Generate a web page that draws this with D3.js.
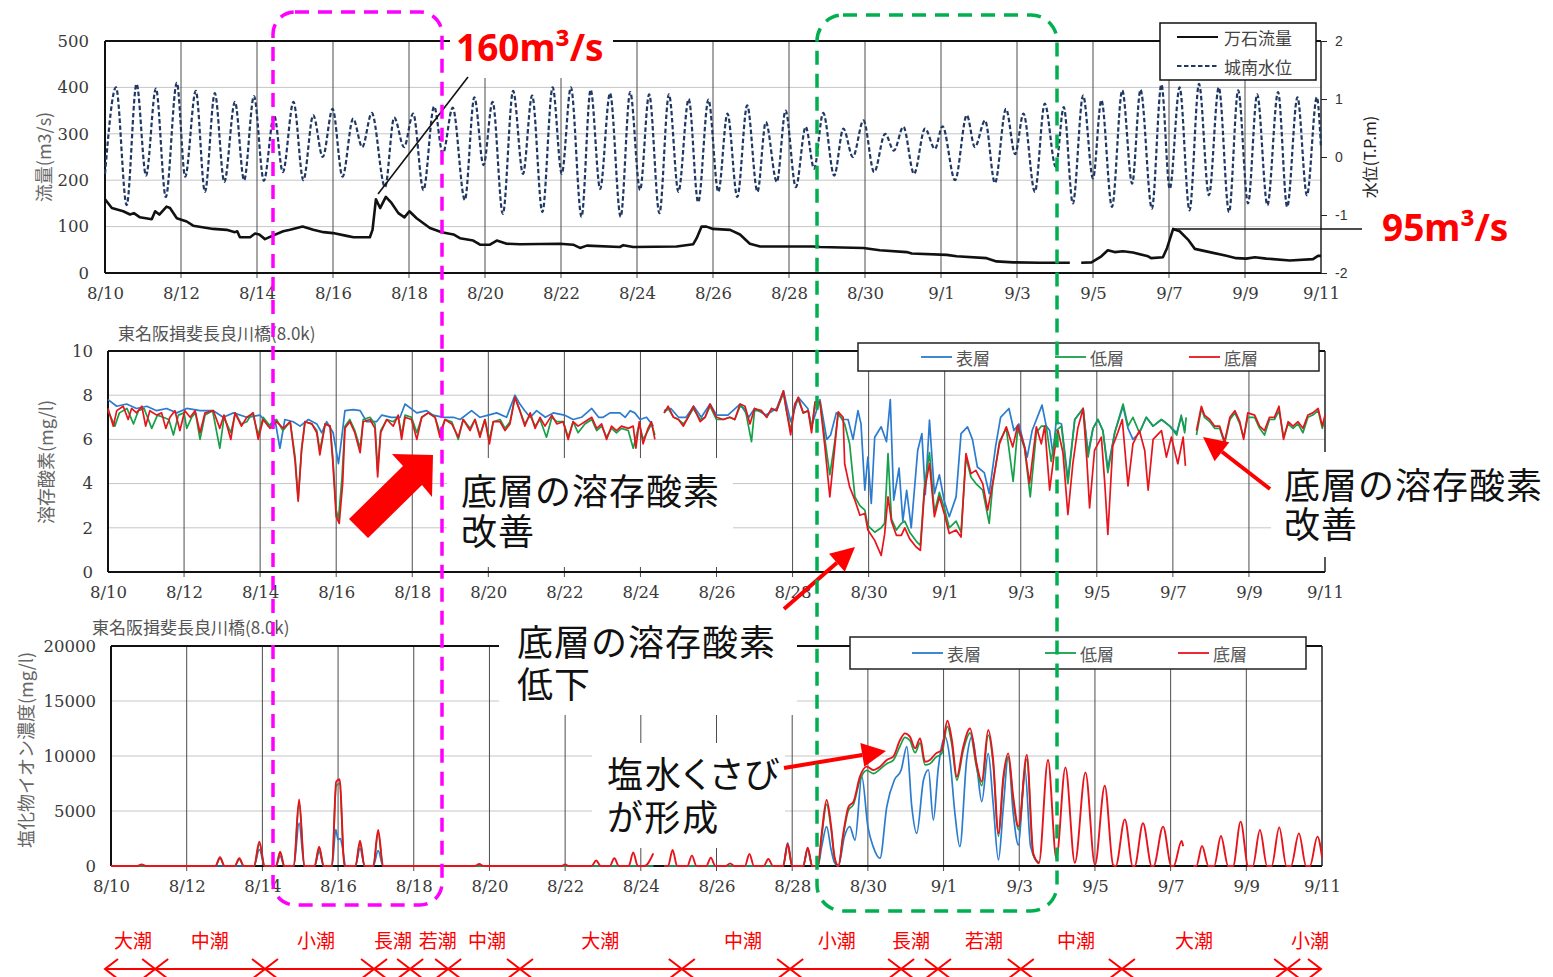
<!DOCTYPE html>
<html><head><meta charset="utf-8">
<script src="https://cdn.jsdelivr.net/npm/d3@7/dist/d3.min.js"></script>
<style>body{margin:0;background:#fff;}svg{display:block;}
.note{font-family:"Noto Sans CJK JP","Noto Sans",sans-serif;font-size:36px;letter-spacing:1px;color:#111;white-space:pre;margin:0;padding:0;}
.note.palt{font-feature-settings:"palt" 1;letter-spacing:2px;}
</style>
</head><body>
<script>
// ---------------- DATA (day offset from 8/10 00:00) ----------------
const dateTicks = [0,2,4,6,8,10,12,14,16,18,20,22,24,26,28,30,32];
const dateLabels = ["8/10","8/12","8/14","8/16","8/18","8/20","8/22","8/24","8/26","8/28","8/30","9/1","9/3","9/5","9/7","9/9","9/11"];
const flowTicks = [0,100,200,300,400,500];
const levelTicks = [-2,-1,0,1,2];
const doTicks = [0,2,4,6,8,10];
const clTicks = [0,5000,10000,15000,20000];

// 城南水位 (T.P.m) – tidal highs/lows
const levelData = [[0,-0.29],[0.29,1.2],[0.57,-0.83],[0.83,1.26],[1.08,-0.32],[1.34,1.18],[1.6,-0.69],[1.89,1.28],[2.11,-0.34],[2.39,1.14],[2.63,-0.6],[2.89,1.1],[3.14,-0.43],[3.42,0.95],[3.66,-0.4],[3.92,1.05],[4.18,-0.41],[4.45,0.72],[4.68,-0.26],[4.96,0.95],[5.22,-0.4],[5.48,0.72],[5.73,0.0],[5.99,0.83],[6.25,-0.34],[6.53,0.66],[6.77,0.17],[7.02,0.76],[7.37,-0.52],[7.61,0.68],[7.87,0.17],[8.11,0.75],[8.38,-0.57],[8.66,0.87],[8.89,0.06],[9.15,0.85],[9.47,-0.74],[9.72,1.03],[9.96,-0.14],[10.2,0.95],[10.47,-0.98],[10.74,1.14],[11.0,-0.29],[11.24,1.06],[11.51,-0.95],[11.78,1.2],[12.02,-0.29],[12.26,1.2],[12.54,-1.03],[12.78,1.16],[13.03,-0.55],[13.29,1.1],[13.57,-1.03],[13.82,1.12],[14.08,-0.57],[14.32,1.08],[14.59,-0.97],[14.84,1.08],[15.09,-0.6],[15.36,1.0],[15.61,-0.78],[15.88,0.99],[16.14,-0.6],[16.38,0.75],[16.64,-0.69],[16.9,0.89],[17.17,-0.6],[17.39,0.6],[17.68,-0.43],[17.91,0.8],[18.18,-0.52],[18.44,0.52],[18.66,-0.2],[18.9,0.76],[19.19,-0.32],[19.43,0.49],[19.68,0.0],[19.96,0.63],[20.24,-0.26],[20.53,0.4],[20.76,0.11],[21.01,0.52],[21.29,-0.29],[21.58,0.49],[21.84,0.14],[22.04,0.53],[22.37,-0.4],[22.68,0.72],[22.89,0.17],[23.16,0.63],[23.42,-0.45],[23.71,0.83],[23.95,0.05],[24.17,0.75],[24.47,-0.6],[24.73,0.92],[25.02,-0.17],[25.23,0.86],[25.47,-0.8],[25.74,1.06],[26.0,-0.37],[26.22,0.98],[26.5,-0.86],[26.77,1.15],[27.03,-0.46],[27.25,1.16],[27.55,-0.89],[27.8,1.25],[28.02,-0.55],[28.28,1.2],[28.54,-0.92],[28.79,1.26],[29.05,-0.66],[29.31,1.2],[29.58,-0.95],[29.82,1.15],[30.08,-0.8],[30.32,1.08],[30.59,-0.83],[30.87,1.12],[31.11,-0.86],[31.38,1.03],[31.63,-0.66],[31.89,1.03],[32.0,0.17]];

// 万石流量 (m3/s)
const flowData = [[0,159],[0.18,140],[0.48,133],[0.66,126],[0.76,129],[0.92,120],[1.23,116],[1.32,133],[1.43,126],[1.62,143],[1.71,140],[1.89,118],[2.15,111],[2.32,102],[2.85,95],[3.2,93],[3.42,88],[3.48,90],[3.55,77],[3.82,77],[3.95,85],[4.06,83],[4.21,73],[4.43,81],[4.69,90],[4.87,93],[5.2,100],[5.48,93],[5.75,88],[6.0,86],[6.36,80],[6.54,77],[6.97,77],[7.04,93],[7.13,159],[7.24,140],[7.39,164],[7.54,151],[7.72,129],[7.88,120],[8.01,133],[8.2,118],[8.55,97],[8.86,88],[9.17,83],[9.34,75],[9.69,70],[9.87,61],[10.13,61],[10.31,70],[10.57,63],[10.92,62],[11.97,63],[12.32,61],[12.5,54],[12.68,59],[13.55,56],[13.64,60],[13.9,56],[15.04,57],[15.48,62],[15.57,75],[15.7,100],[15.83,100],[16.0,95],[16.45,93],[16.71,83],[16.97,63],[17.24,57],[18.64,57],[18.82,56],[19.96,54],[20.39,49],[21.1,45],[21.23,42],[22.15,39],[22.41,36],[23.2,32],[23.46,25],[23.9,23],[24.6,22],[25.39,22],[25.5,null],[25.69,22],[25.96,23],[26.22,36],[26.39,49],[26.57,45],[26.79,47],[27.05,44],[27.45,36],[27.53,32],[27.84,34],[27.95,54],[28.11,95],[28.28,90],[28.5,72],[28.68,52],[29.07,45],[29.51,37],[29.77,32],[30.03,31],[30.26,34],[30.56,31],[31.18,27],[31.79,30],[31.92,37],[32.0,37]];

// 溶存酸素 (mg/l) 表層
const doSurface = [[0,7.8],[0.23,7.5],[0.49,7.6],[0.75,7.4],[1.02,7.5],[1.28,7.3],[1.54,7.4],[1.81,7.2],[2.07,7.4],[2.42,7.3],[2.77,7.3],[3.03,7.0],[3.3,7.2],[3.65,7.0],[4.0,7.1],[4.22,6.6],[4.39,6.9],[4.52,5.6],[4.65,6.9],[4.87,6.8],[5.05,6.6],[5.27,6.9],[5.49,6.7],[5.62,6.3],[5.75,6.8],[5.92,6.3],[6.06,4.9],[6.14,6.0],[6.23,7.3],[6.45,7.35],[6.63,7.3],[6.8,6.8],[7.06,6.8],[7.2,7.1],[7.45,7.0],[7.68,7.0],[7.81,7.6],[8.12,7.2],[8.38,7.3],[8.55,7.1],[8.82,7.0],[9.08,7.0],[9.26,6.9],[9.56,7.3],[9.78,7.0],[10.0,7.1],[10.22,7.2],[10.48,7.0],[10.7,8.0],[10.83,7.6],[10.96,7.3],[11.1,7.0],[11.27,7.3],[11.5,7.0],[11.71,7.2],[12.0,7.1],[12.23,6.9],[12.45,7.0],[12.72,7.4],[12.9,7.0],[13.02,7.0],[13.2,7.2],[13.46,7.2],[13.6,7.0],[13.73,7.3],[13.85,7.2],[13.99,6.9],[14.16,7.0],[14.34,6.6],[14.5,null],
[14.62,7.3],[14.8,7.4],[15.0,7.0],[15.2,7.0],[15.4,7.5],[15.6,7.0],[15.83,7.6],[16.0,7.1],[16.3,7.1],[16.62,7.6],[16.85,7.0],[17.0,7.4],[17.3,7.1],[17.58,7.4],[17.76,8.2],[17.95,6.8],[18.15,7.9],[18.4,7.4],[18.5,6.6],[18.72,7.8],[18.9,6.0],[19.0,6.2],[19.15,7.2],[19.33,6.9],[19.46,6.9],[19.59,6.0],[19.72,7.3],[19.8,6.7],[19.9,3.7],[19.98,5.2],[20.07,3.1],[20.16,6.1],[20.33,6.57],[20.47,5.9],[20.57,7.8],[20.66,3.25],[20.8,4.7],[20.9,2.3],[21.0,3.7],[21.12,2.0],[21.29,5.5],[21.4,6.26],[21.49,3.5],[21.6,6.87],[21.73,3.55],[21.86,4.4],[21.99,3.2],[22.12,2.5],[22.3,3.4],[22.43,6.26],[22.6,6.57],[22.73,6.0],[22.86,4.75],[23.04,4.5],[23.17,3.55],[23.34,5.7],[23.47,7.0],[23.69,7.4],[23.82,6.4],[23.95,6.7],[24.17,5.2],[24.3,6.4],[24.56,7.55],[24.67,6.6],[24.76,6.4],[24.85,5.3],[24.93,6.8],[25.07,6.7],[25.24,4.2],[25.42,6.9],[25.64,7.4],[25.77,5.4],[25.9,6.5],[26.03,6.9],[26.16,6.4],[26.29,4.7],[26.47,6.3],[26.69,7.5],[26.82,6.5],[26.95,6.0],[27.12,6.3],[27.3,7.0],[27.48,6.6],[27.7,6.9],[27.92,6.6],[28.1,6.3],[28.22,7.0],[28.33,6.4]];

// 溶存酸素 (mg/l) 低層
const doLow = [[0,7.3],[0.18,6.6],[0.3,7.2],[0.5,7.4],[0.67,6.7],[0.8,7.3],[0.95,7.4],[1.15,6.5],[1.3,7.1],[1.45,7.0],[1.6,6.9],[1.72,6.2],[1.85,7.1],[2.0,7.2],[2.07,6.5],[2.2,7.0],[2.3,7.2],[2.42,6.0],[2.55,7.1],[2.75,7.3],[2.94,5.6],[3.05,7.0],[3.23,6.3],[3.35,7.2],[3.5,6.7],[3.65,6.8],[3.8,7.2],[3.95,6.2],[4.08,7.0],[4.26,6.6],[4.43,6.9],[4.6,6.4],[4.79,6.8],[4.92,5.2],[5.0,3.3],[5.09,5.6],[5.18,6.8],[5.36,6.7],[5.49,6.4],[5.57,5.5],[5.71,6.7],[5.84,6.6],[5.91,5.2],[6.0,2.8],[6.06,2.4],[6.15,4.2],[6.23,6.6],[6.36,6.9],[6.49,6.4],[6.63,5.6],[6.71,6.9],[6.89,7.0],[7.02,6.7],[7.09,4.6],[7.17,6.4],[7.33,6.9],[7.5,6.8],[7.63,7.0],[7.72,6.2],[7.81,7.1],[7.98,7.0],[8.12,6.3],[8.25,7.0],[8.42,7.2],[8.6,7.0],[8.73,6.3],[8.86,6.9],[9.04,6.8],[9.21,6.0],[9.34,6.9],[9.52,6.5],[9.65,6.9],[9.78,6.2],[9.91,6.9],[10.03,6.0],[10.13,6.8],[10.31,6.9],[10.44,6.5],[10.57,6.8],[10.7,7.9],[10.83,7.3],[10.96,6.7],[11.1,7.1],[11.23,6.6],[11.36,6.9],[11.53,6.1],[11.67,7.0],[11.8,6.8],[11.97,6.8],[12.1,6.1],[12.23,6.8],[12.36,6.3],[12.54,6.7],[12.72,6.9],[12.85,6.4],[12.98,6.6],[13.11,6.1],[13.24,6.5],[13.37,6.3],[13.5,6.5],[13.68,6.4],[13.81,5.6],[13.97,6.7],[14.07,6.0],[14.2,6.4],[14.29,6.7],[14.38,6.2],[14.5,null],
[14.62,7.2],[14.73,7.4],[14.87,7.0],[15.0,6.9],[15.13,6.7],[15.22,6.9],[15.39,7.4],[15.57,6.9],[15.7,7.0],[15.83,7.5],[16.0,6.9],[16.18,6.9],[16.35,7.0],[16.48,6.9],[16.62,7.5],[16.75,7.4],[16.92,5.9],[17.0,7.3],[17.18,7.3],[17.32,7.0],[17.45,7.4],[17.58,7.3],[17.76,8.1],[17.84,7.3],[17.95,6.4],[18.06,7.6],[18.15,7.8],[18.28,7.2],[18.41,7.3],[18.5,6.5],[18.59,7.6],[18.72,7.7],[18.85,6.0],[18.98,4.4],[19.11,5.9],[19.2,7.2],[19.37,6.7],[19.5,5.8],[19.64,3.4],[19.77,3.0],[19.9,2.8],[19.98,2.1],[20.16,1.8],[20.33,2.0],[20.42,2.2],[20.51,5.36],[20.6,2.4],[20.73,1.9],[20.86,2.2],[20.95,2.3],[21.08,1.8],[21.25,1.4],[21.36,1.2],[21.47,3.9],[21.6,5.4],[21.73,2.7],[21.86,3.6],[21.99,2.9],[22.12,2.0],[22.3,2.3],[22.43,1.8],[22.56,5.2],[22.69,4.3],[22.82,4.0],[23.0,3.7],[23.17,2.2],[23.26,3.9],[23.44,5.9],[23.62,6.5],[23.8,4.1],[23.92,6.5],[24.1,5.6],[24.25,3.4],[24.41,6.3],[24.54,6.6],[24.67,6.6],[24.8,5.0],[24.93,6.4],[25.07,6.6],[25.24,4.0],[25.42,6.9],[25.64,7.4],[25.77,5.2],[25.9,6.5],[26.03,6.9],[26.16,6.4],[26.29,4.5],[26.47,6.3],[26.69,7.6],[26.82,6.6],[26.95,7.0],[27.12,6.3],[27.3,7.0],[27.48,6.6],[27.7,6.9],[27.92,6.6],[28.1,6.2],[28.22,7.1],[28.31,6.3],[28.35,7.0],[28.47,null],
[28.62,6.2],[28.75,7.4],[28.83,7.0],[28.97,6.8],[29.1,6.5],[29.23,6.5],[29.36,5.8],[29.5,6.9],[29.63,7.2],[29.76,6.7],[29.86,6.1],[29.97,7.0],[30.15,7.0],[30.28,6.5],[30.41,6.2],[30.54,6.9],[30.67,6.9],[30.79,7.3],[30.91,6.1],[31.03,6.7],[31.16,6.5],[31.29,6.7],[31.42,6.3],[31.55,7.0],[31.68,7.1],[31.82,7.3],[31.93,6.5],[32.0,7.0]];

// 溶存酸素 (mg/l) 底層
const doBottom = [[0,7.4],[0.14,6.6],[0.23,7.3],[0.4,7.5],[0.53,6.9],[0.62,7.4],[0.75,7.2],[0.89,7.5],[0.99,6.6],[1.1,7.3],[1.28,7.1],[1.41,7.2],[1.52,6.5],[1.63,7.0],[1.76,7.3],[1.89,6.4],[2.02,7.3],[2.16,7.0],[2.29,7.3],[2.42,6.3],[2.55,7.2],[2.77,7.3],[2.94,6.5],[3.05,7.1],[3.23,6.0],[3.34,7.2],[3.51,6.6],[3.65,7.0],[3.82,7.2],[3.95,6.0],[4.08,6.9],[4.26,6.5],[4.43,6.8],[4.61,6.5],[4.79,6.8],[4.92,5.0],[5.0,3.2],[5.09,5.5],[5.18,6.8],[5.36,6.7],[5.49,6.3],[5.57,5.3],[5.71,6.7],[5.84,6.6],[5.91,5.0],[6.0,2.5],[6.08,2.2],[6.17,4.0],[6.23,6.5],[6.36,6.8],[6.49,6.3],[6.63,5.4],[6.71,6.8],[6.89,6.9],[7.02,6.5],[7.09,4.3],[7.17,6.3],[7.33,6.9],[7.5,6.6],[7.63,7.1],[7.72,6.0],[7.81,7.0],[7.98,6.9],[8.12,6.0],[8.25,7.0],[8.42,7.2],[8.6,7.0],[8.73,6.1],[8.86,6.9],[9.04,6.7],[9.21,6.1],[9.34,6.9],[9.52,6.4],[9.65,6.9],[9.78,6.1],[9.91,6.9],[10.03,5.8],[10.13,6.8],[10.31,6.8],[10.44,6.4],[10.57,6.7],[10.7,7.9],[10.83,7.3],[10.96,6.6],[11.1,7.2],[11.23,6.5],[11.36,7.0],[11.49,6.6],[11.67,7.1],[11.8,6.7],[11.97,6.8],[12.1,6.0],[12.23,6.8],[12.36,6.6],[12.54,6.8],[12.72,7.0],[12.85,6.5],[12.98,6.7],[13.11,6.0],[13.24,6.6],[13.37,6.4],[13.5,6.6],[13.68,6.5],[13.81,6.6],[13.88,5.6],[13.97,6.8],[14.07,5.8],[14.2,6.5],[14.29,6.8],[14.38,6.0],[14.5,null],
[14.62,7.2],[14.73,7.5],[14.87,7.0],[15.0,6.9],[15.13,6.6],[15.22,6.9],[15.39,7.5],[15.57,6.8],[15.7,7.0],[15.83,7.6],[16.0,7.0],[16.18,6.9],[16.35,7.0],[16.48,6.9],[16.62,7.6],[16.75,7.5],[16.88,6.7],[17.0,7.4],[17.18,7.3],[17.32,7.0],[17.45,7.4],[17.58,7.3],[17.76,8.2],[17.84,7.3],[17.95,6.2],[18.06,7.6],[18.15,7.9],[18.28,7.2],[18.41,7.3],[18.5,6.3],[18.59,7.7],[18.72,7.7],[18.85,5.66],[18.98,3.4],[19.11,5.66],[19.2,7.25],[19.33,7.0],[19.37,4.9],[19.5,3.85],[19.64,3.25],[19.77,2.57],[19.9,2.65],[19.98,1.9],[20.16,1.43],[20.33,0.75],[20.42,1.7],[20.51,3.4],[20.6,2.3],[20.73,1.66],[20.86,1.66],[20.95,2.0],[21.08,1.5],[21.25,1.13],[21.36,0.98],[21.47,3.7],[21.6,4.9],[21.73,2.5],[21.86,3.4],[21.99,2.64],[22.12,1.74],[22.3,1.9],[22.43,1.58],[22.56,5.36],[22.69,4.45],[22.82,4.6],[23.0,4.0],[23.13,2.8],[23.26,4.0],[23.44,5.8],[23.62,6.57],[23.79,5.66],[23.92,6.64],[24.1,5.66],[24.23,4.0],[24.41,6.57],[24.54,5.8],[24.63,6.6],[24.76,3.7],[24.89,5.5],[24.98,6.4],[25.11,5.4],[25.24,2.6],[25.37,4.9],[25.5,6.5],[25.64,7.4],[25.74,5.0],[25.81,2.9],[25.94,5.5],[26.12,6.1],[26.21,4.0],[26.29,1.7],[26.42,5.7],[26.55,6.3],[26.67,6.9],[26.82,3.9],[26.95,5.8],[27.12,6.4],[27.26,5.5],[27.35,3.7],[27.48,6.0],[27.7,6.4],[27.83,5.2],[27.96,6.1],[28.13,4.9],[28.27,6.1],[28.33,4.8],[28.47,null],
[28.62,6.4],[28.75,7.5],[28.83,7.1],[28.97,6.9],[29.1,6.6],[29.23,6.6],[29.36,5.9],[29.5,7.0],[29.63,7.3],[29.76,6.8],[29.86,6.0],[29.97,7.2],[30.15,7.1],[30.28,6.6],[30.41,6.4],[30.54,7.0],[30.67,7.0],[30.79,7.5],[30.91,6.0],[31.03,6.8],[31.16,6.6],[31.29,6.8],[31.42,6.5],[31.55,7.1],[31.68,7.2],[31.82,7.4],[31.93,6.6],[32.0,7.1]];

// 塩化物イオン濃度 (mg/l) 表層
const clSurface = [[0,0],[3.78,0],[3.92,1500],[4.06,0],[4.36,0],[4.47,900],[4.58,0],[4.83,0],[4.97,3900],[5.11,0],[5.38,0],[5.5,1300],[5.62,0],[5.84,0],[5.94,3300],[6.0,2400],[6.06,2500],[6.12,1600],[6.2,0],[6.46,0],[6.58,1600],[6.7,0],[6.93,0],[7.06,1400],[7.19,0],[14.33,0],[14.45,null],[14.62,0],[17.76,0],[17.88,2100],[18.0,0],[18.29,0],[18.41,1500],[18.53,0],[18.68,0],[18.78,1760],[18.91,3580],[19.03,1450],[19.12,300],[19.22,0],[19.38,2670],[19.52,3580],[19.66,2360],[19.84,8120],[20.0,3580],[20.14,1760],[20.32,700],[20.5,5400],[20.7,7820],[20.88,8730],[21.03,10850],[21.16,5400],[21.29,2970],[21.47,7820],[21.6,8730],[21.73,4180],[21.86,8880],[22.04,11760],[22.17,9640],[22.3,4790],[22.43,1760],[22.61,9640],[22.75,11760],[22.88,9030],[23.01,5850],[23.18,10240],[23.31,5700],[23.45,550],[23.58,5400],[23.71,9940],[23.84,4800],[23.98,1900],[24.15,8800],[24.3,1760],[24.52,200]];

// 塩化物イオン濃度 (mg/l) 低層
const clLow = [[0,0],[2.76,0],[2.88,700],[3.0,0],[3.27,0],[3.39,600],[3.51,0],[3.78,0],[3.92,2000],[4.06,0],[4.36,0],[4.47,1200],[4.58,0],[4.83,0],[4.97,5800],[5.11,0],[5.38,0],[5.5,1600],[5.62,0],[5.84,0],[5.95,7300],[6.04,7500],[6.17,0],[6.46,0],[6.58,2100],[6.7,0],[6.93,0],[7.06,3000],[7.19,0],[14.33,0],[14.45,null],[14.62,0],[17.76,0],[17.88,1900],[18.0,0],[18.29,0],[18.41,1600],[18.53,0],[18.68,0],[18.78,2700],[18.91,5600],[19.03,3300],[19.12,700],[19.22,0],[19.35,2800],[19.49,5100],[19.62,5600],[19.79,7800],[19.97,8700],[20.14,8400],[20.32,8800],[20.5,9300],[20.67,9600],[20.85,10900],[20.98,11700],[21.11,11400],[21.25,10300],[21.38,11200],[21.51,9200],[21.64,9300],[21.8,9900],[21.95,10200],[22.1,12700],[22.22,11000],[22.35,7800],[22.52,10500],[22.7,12100],[22.87,9000],[23.01,7300],[23.18,11900],[23.31,9300],[23.45,2700],[23.58,7800],[23.71,9900],[23.84,6000],[23.98,3300],[24.2,9700],[24.37,1000],[24.52,250]];

// 塩化物イオン濃度 (mg/l) 底層
const clBottom = [[0,0],[0.7,0],[0.81,150],[0.92,0],[2.76,0],[2.88,790],[3.0,0],[3.27,0],[3.39,700],[3.51,0],[3.78,0],[3.92,2200],[4.06,0],[4.36,0],[4.47,1300],[4.58,0],[4.83,0],[4.97,6060],[5.11,0],[5.38,0],[5.5,1760],[5.62,0],[5.84,0],[5.95,7660],[6.04,7880],[6.17,0],[6.46,0],[6.58,2300],[6.7,0],[6.93,0],[7.06,3270],[7.19,0],[9.62,0],[9.73,180],[9.84,0],[11.9,0],[12.0,150],[12.1,0],[12.7,0],[12.82,500],[12.94,0],[13.18,0],[13.3,700],[13.42,0],[13.68,0],[13.8,1240],[13.92,0],[14.1,0],[14.33,1150],[14.45,null],[14.62,0],[14.72,0],[14.84,1450],[14.96,0],[15.23,0],[15.35,940],[15.47,0],[15.73,0],[15.85,760],[15.97,0],[16.25,0],[16.36,240],[16.47,0],[16.75,0],[16.87,1090],[16.99,0],[17.25,0],[17.37,640],[17.49,0],[17.76,0],[17.88,2000],[18.0,0],[18.29,0],[18.41,1670],[18.53,0],[18.68,0],[18.78,2970],[18.91,6000],[19.03,3580],[19.12,800],[19.22,0],[19.35,2970],[19.49,5400],[19.62,5850],[19.79,8120],[19.97,9030],[20.14,8730],[20.32,9030],[20.5,9640],[20.67,9940],[20.85,11450],[20.98,12060],[21.11,11760],[21.25,10700],[21.38,11600],[21.51,9480],[21.64,9640],[21.8,10240],[21.95,10540],[22.1,13210],[22.22,11450],[22.35,8120],[22.52,10850],[22.7,12510],[22.87,9330],[23.01,7670],[23.18,12360],[23.31,9640],[23.45,2970],[23.58,8120],[23.71,10240],[23.84,6300],[23.98,3580],[24.2,10090],[24.37,1150],[24.52,300],[24.76,9640],[24.98,700],[25.22,8970],[25.47,300],[25.75,8510],[26.0,100],[26.26,7300],[26.48,100],[26.55,0],[26.79,4240],[27.0,0],[27.05,0],[27.27,3880],[27.5,0],[27.55,0],[27.8,3580],[28.02,0],[28.08,0],[28.29,2270],[28.33,1800],[28.45,null],[28.6,0],[28.68,0],[28.83,1820],[29.0,0],[29.15,0],[29.33,2730],[29.52,0],[29.65,0],[29.85,4030],[30.05,0],[30.17,0],[30.36,3270],[30.55,0],[30.67,0],[30.87,3510],[31.06,0],[31.18,0],[31.39,2970],[31.58,0],[31.68,0],[31.88,2670],[32.0,800]];

// 潮位区分
const tideNames = ["大潮","中潮","小潮","長潮","若潮","中潮","大潮","中潮","小潮","長潮","若潮","中潮","大潮","小潮"];
const tideBounds = [0,1.32,4.21,7.08,8.03,9.03,10.92,15.18,18.03,20.95,21.92,24.1,26.76,31.11,32];
const tideLabelAt = [0.74,2.76,5.55,7.58,8.76,10.05,13.03,16.79,19.26,21.21,23.13,25.55,28.66,31.71];

const seriesNames = ["表層","低層","底層"];
const topLegend = ["万石流量","城南水位"];
const stationTitle = "東名阪揖斐長良川橋(8.0k)";
const notes = ["底層の溶存酸素\n改善","底層の溶存酸素\n改善","底層の溶存酸素\n低下","塩水くさび\nが形成"];

// ---------------- DRAWING ----------------
const W=1553,H=977;
const SERIF='"DejaVu Serif","Liberation Serif",serif';
const JP='"Noto Sans CJK JP","Noto Sans",sans-serif';
const SANS='"Liberation Sans",Arial,sans-serif';
const COL={blue:'#2b7bd0',green:'#16a04a',red:'#e8141c',navy:'#1f3864'};

const svg=d3.select('body').append('svg').attr('width',W).attr('height',H);
svg.append('rect').attr('width',W).attr('height',H).attr('fill','#fff');

const xTop=d3.scaleLinear().domain([0,32]).range([105,1321]);
const yFlow=d3.scaleLinear().domain([0,500]).range([273,41]);
const yLevel=d3.scaleLinear().domain([-2,2]).range([273,41]);
const xMid=d3.scaleLinear().domain([0,32]).range([108,1325]);
const yDO=d3.scaleLinear().domain([0,10]).range([572,351]);
const xBot=d3.scaleLinear().domain([0,32]).range([111,1322]);
const yCl=d3.scaleLinear().domain([0,20000]).range([866,646]);

function panel(x,y,yTicks,padL){
  const g=svg.append('g');
  const [xa,xb]=x.range(); const [yb,ya]=y.range();
  g.selectAll(null).data(yTicks.slice(1,-1)).join('line')
    .attr('x1',xa).attr('x2',xb).attr('y1',d=>y(d)).attr('y2',d=>y(d))
    .attr('stroke','#c6c6c6').attr('stroke-width',1);
  g.selectAll(null).data(dateTicks.slice(1,-1)).join('line')
    .attr('x1',d=>x(d)).attr('x2',d=>x(d)).attr('y1',ya).attr('y2',yb+5)
    .attr('stroke','#4d4d4d').attr('stroke-width',1);
  const ax=g.append('g').attr('transform',`translate(0,${yb})`)
    .call(d3.axisBottom(x).tickValues(dateTicks).tickFormat((d,i)=>dateLabels[i]).tickSize(0).tickPadding(14));
  ax.select('.domain').remove();
  ax.attr('font-family',SERIF).attr('font-size',16.5);
  ax.selectAll('text').style('font-family',SERIF).style('font-size','16.5px').attr('fill','#3a3a3a');
  const ay=g.append('g').attr('transform',`translate(${xa},0)`)
    .call(d3.axisLeft(y).tickValues(yTicks).tickFormat(d=>String(d)).tickSize(0).tickPadding(padL));
  ay.select('.domain').remove();
  ay.attr('font-family',SERIF).attr('font-size',16.5);
  ay.selectAll('text').style('font-family',SERIF).style('font-size','16.5px').attr('fill','#3a3a3a');
  g.append('line').attr('x1',xa).attr('x2',xb).attr('y1',ya).attr('y2',ya).attr('stroke','#111').attr('stroke-width',2);
  g.append('line').attr('x1',xa).attr('x2',xb).attr('y1',yb).attr('y2',yb).attr('stroke','#111').attr('stroke-width',2);
  g.append('line').attr('x1',xa).attr('x2',xa).attr('y1',ya).attr('y2',yb).attr('stroke','#111').attr('stroke-width',2);
  g.append('line').attr('x1',xb).attr('x2',xb).attr('y1',ya).attr('y2',yb).attr('stroke','#222').attr('stroke-width',1.5);
  return g;
}
function vTitle(txt,x,y,size,fill,family){
  svg.append('text').attr('transform',`translate(${x},${y}) rotate(-90)`)
    .attr('text-anchor','middle').attr('dominant-baseline','central')
    .attr('font-family',family||JP).attr('font-size',size).attr('fill',fill).text(txt);
}
function drawLine(x,y,data,color,width,curve,dash){
  const ln=d3.line().defined(d=>d[1]!=null).x(d=>x(d[0])).y(d=>y(d[1])).curve(curve||d3.curveLinear);
  const p=svg.append('path').datum(data).attr('d',ln).attr('fill','none')
    .attr('stroke',color).attr('stroke-width',width).attr('stroke-linejoin','round');
  if(dash) p.attr('stroke-dasharray',dash);
  return p;
}

// ---- top panel ----
panel(xTop,yFlow,flowTicks,16);
const ra=svg.append('g').attr('transform','translate(1321,0)')
  .call(d3.axisRight(yLevel).tickValues(levelTicks).tickFormat(d=>String(d)).tickSize(6).tickPadding(8));
ra.select('.domain').remove();
ra.selectAll('line').attr('stroke','#222');
ra.selectAll('text').style('font-family',SANS).style('font-size','14px').attr('fill','#333');
vTitle('流量(m3/s)',43,157,18,'#666');
vTitle('水位(T.P.m)',1369,157,16,'#222');
drawLine(xTop,yLevel,levelData,COL.navy,2.2,d3.curveMonotoneX,'4.5,2.5');
drawLine(xTop,yFlow,flowData,'#111',2.6);

// top legend
svg.append('rect').attr('x',1160).attr('y',23).attr('width',156).attr('height',57).attr('fill','#fff').attr('stroke','#111').attr('stroke-width',1.5);
svg.append('line').attr('x1',1177).attr('x2',1218).attr('y1',37).attr('y2',37).attr('stroke','#111').attr('stroke-width',2.2);
svg.append('line').attr('x1',1177).attr('x2',1218).attr('y1',66).attr('y2',66).attr('stroke',COL.navy).attr('stroke-width',2).attr('stroke-dasharray','4.5,2.5');
svg.selectAll(null).data(topLegend).join('text').attr('x',1224).attr('y',(d,i)=>37+29*i)
  .attr('dominant-baseline','central').attr('font-family',JP).attr('font-size',17).attr('fill','#444').text(d=>d);

// ---- middle panel ----
panel(xMid,yDO,doTicks,15);
svg.append('text').attr('x',118).attr('y',332).attr('dominant-baseline','central')
  .attr('font-family',JP).attr('font-size',17).attr('fill','#555').text(stationTitle);
vTitle('溶存酸素(mg/l)',45,462,18,'#666');
drawLine(xMid,yDO,doSurface,COL.blue,1.7);
drawLine(xMid,yDO,doLow,COL.green,1.7);
drawLine(xMid,yDO,doBottom,COL.red,1.7);

function seriesLegend(bx,by,bw,bh,items){
  svg.append('rect').attr('x',bx).attr('y',by).attr('width',bw).attr('height',bh).attr('fill','#fff').attr('stroke','#222').attr('stroke-width',1.5);
  const cy=by+bh/2;
  items.forEach((it,i)=>{
    svg.append('line').attr('x1',it.x).attr('x2',it.x+31).attr('y1',cy).attr('y2',cy).attr('stroke',it.c).attr('stroke-width',1.8);
    svg.append('text').attr('x',it.x+35).attr('y',cy).attr('dominant-baseline','central')
      .attr('font-family',JP).attr('font-size',17).attr('fill','#555').text(seriesNames[i]);
  });
}
seriesLegend(858,343,461,28,[{x:921,c:COL.blue},{x:1055,c:COL.green},{x:1189,c:COL.red}]);

// ---- bottom panel ----
panel(xBot,yCl,clTicks,15);
svg.append('text').attr('x',92).attr('y',626).attr('dominant-baseline','central')
  .attr('font-family',JP).attr('font-size',17).attr('fill','#555').text(stationTitle);
vTitle('塩化物イオン濃度(mg/l)',25,750,18,'#666');
drawLine(xBot,yCl,clSurface,COL.blue,1.7,d3.curveMonotoneX);
drawLine(xBot,yCl,clLow,COL.green,1.7,d3.curveMonotoneX);
drawLine(xBot,yCl,clBottom,COL.red,1.9,d3.curveMonotoneX);
seriesLegend(850,637,456,32,[{x:912,c:COL.blue},{x:1045,c:COL.green},{x:1178,c:COL.red}]);

// ---------------- ANNOTATIONS ----------------
const white=(x,y,w,h)=>svg.append('rect').attr('x',x).attr('y',y).attr('width',w).attr('height',h).attr('fill','#fff');
white(450,6,163,72);
white(447,458,286,109);
white(1271,452,282,105);
white(499,603,298,112);
white(592,743,193,105);

// two-line notes as single text blocks (line-height = line spacing of the original)
const notePos = [{x:461,top:469,lh:40},{x:1284,top:464,lh:39},{x:517,top:619,lh:42},{x:607,top:751,lh:43,palt:true}];
notes.forEach((t,i)=>{
  const p=notePos[i];
  svg.append('foreignObject').attr('x',p.x).attr('y',p.top).attr('width',300).attr('height',p.lh*2+4)
    .append('xhtml:div').attr('class',p.palt?'note palt':'note').style('line-height',p.lh+'px').text(t);
});

const redBold=(t,x,y)=>svg.append('text').attr('x',x).attr('y',y).attr('font-family','"Noto Sans","Open Sans",sans-serif')
  .attr('font-weight','bold').attr('font-size',37).attr('fill','#ff0000').text(t);
redBold('160m³/s',456,61);
redBold('95m³/s',1382,241);
svg.append('line').attr('x1',378).attr('y1',194).attr('x2',468).attr('y2',77).attr('stroke','#111').attr('stroke-width',1.6);
svg.append('line').attr('x1',1172).attr('y1',229).attr('x2',1362).attr('y2',229).attr('stroke','#111').attr('stroke-width',1.6);

// block arrow
svg.append('polygon').attr('points','433,455 392,454 403,466 349,519 368,538 422,485 432,497').attr('fill','#ff0000');

function arrow(x1,y1,x2,y2){
  const a=Math.atan2(y2-y1,x2-x1), L=24, hw=12;
  const bx=x2-L*Math.cos(a), by=y2-L*Math.sin(a);
  svg.append('line').attr('x1',x1).attr('y1',y1).attr('x2',bx).attr('y2',by).attr('stroke','#ff0000').attr('stroke-width',4);
  svg.append('polygon').attr('points',[[x2,y2],[bx+hw*Math.sin(a),by-hw*Math.cos(a)],[bx-hw*Math.sin(a),by+hw*Math.cos(a)]].map(p=>p.join(',')).join(' ')).attr('fill','#ff0000');
}
arrow(1270,489,1203,437);
arrow(784,609,855,547);
arrow(784,768,886,751);

// dashed highlight boxes
svg.append('rect').attr('x',273).attr('y',12).attr('width',169).attr('height',893).attr('rx',22)
  .attr('fill','none').attr('stroke','#ff00ff').attr('stroke-width',3.5).attr('stroke-dasharray','14,9');
svg.append('rect').attr('x',817).attr('y',15).attr('width',240).attr('height',896).attr('rx',26)
  .attr('fill','none').attr('stroke','#00b050').attr('stroke-width',3.5).attr('stroke-dasharray','14,9');

// tide strip
const tY=969;
const tg=svg.append('g').attr('stroke','#ff0000').attr('fill','none').attr('stroke-width',2);
tg.append('line').attr('x1',xTop(0)).attr('x2',xTop(32)).attr('y1',tY).attr('y2',tY);
for(let i=0;i<tideNames.length;i++){
  const a=xTop(tideBounds[i]), b=xTop(tideBounds[i+1]);
  tg.append('polyline').attr('points',`${a+13},${tY-10} ${a},${tY} ${a+13},${tY+10}`);
  tg.append('polyline').attr('points',`${b-13},${tY-10} ${b},${tY} ${b-13},${tY+10}`);
}
svg.selectAll(null).data(tideNames).join('text')
  .attr('x',(d,i)=>xTop(tideLabelAt[i])).attr('y',948).attr('text-anchor','middle')
  .attr('font-family',JP).attr('font-size',19).attr('fill','#ff0000').text(d=>d);
</script>
</body></html>
